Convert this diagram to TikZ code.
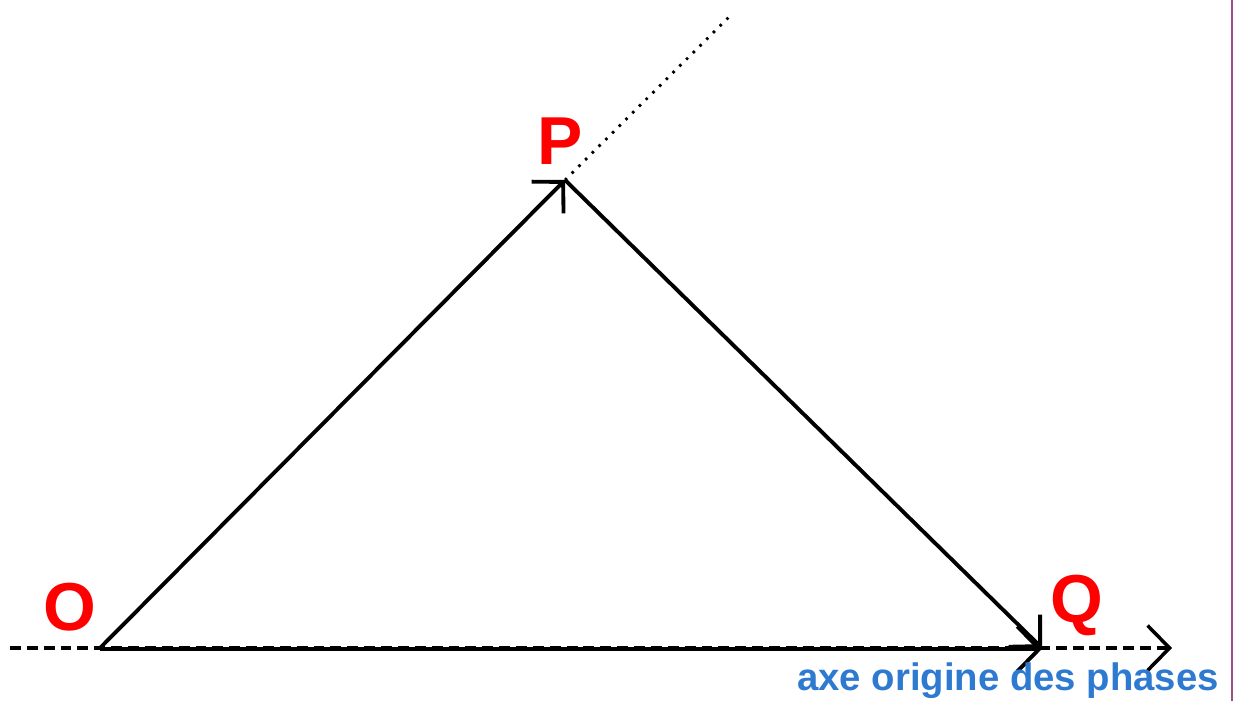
\documentclass[tikz,border=0pt]{standalone}
\usepackage{fontspec}
\setmainfont{Liberation Sans}
\usetikzlibrary{arrows.meta, positioning}
\definecolor{myred}{rgb}{1, 0, 0}
\definecolor{myblue}{rgb}{0.18, 0.48, 0.82}
\definecolor{mypurple}{rgb}{0.62, 0.30, 0.55}
\tikzstyle{vec} = [line width=2.2pt, -{Straight Barb[length=0.44cm, width=0.9cm]}]
\tikzstyle{axis} = [line width=2pt, dash pattern=on 6.2pt off 3.4pt, -{Straight Barb[length=0.44cm, width=0.9cm]}]
\tikzstyle{dots} = [line width=1.6pt, dash pattern=on 1.5pt off 3.9pt]
\tikzstyle{lbl} = [text=myred, font=\fontsize{38.6}{40}\selectfont\bfseries]
\tikzstyle{axistext} = [text=myblue, inner sep=0pt, font=\fontsize{21.8}{24}\selectfont\bfseries]

\begin{document}
\begin{tikzpicture}[x=0.02cm, y=-0.02cm]
    \useasboundingbox (0,0) rectangle (1234,701);
    \coordinate (O) at (100,648);
    \coordinate (P) at (565,180);
    \coordinate (Q) at (1042,648);
    \coordinate (axisL) at (10,648);
    \coordinate (axisR) at (1172,648);
    \coordinate (dotEnd) at (732,14);
    \draw[axis] (axisL) -- (axisR);
    \draw[vec] ([yshift=-0.5] O) -- ([yshift=-0.5] Q);
    \draw[vec] (O) -- (P);
    \draw[vec] (P) -- (Q);
    \draw[dots] (P) -- (dotEnd);
    \node[lbl] (labO) at (70,607) {O};
    \node[lbl] (labP) at (560,141) {P};
    \node[lbl] (labQ) at (1077,605) {Q};
    \node[axistext, anchor=base west] (axname) at (797,690) {axe origine des phases};
    \draw[mypurple, line width=0.8pt] (1232,0) -- (1232,701);
\end{tikzpicture}
\end{document}
